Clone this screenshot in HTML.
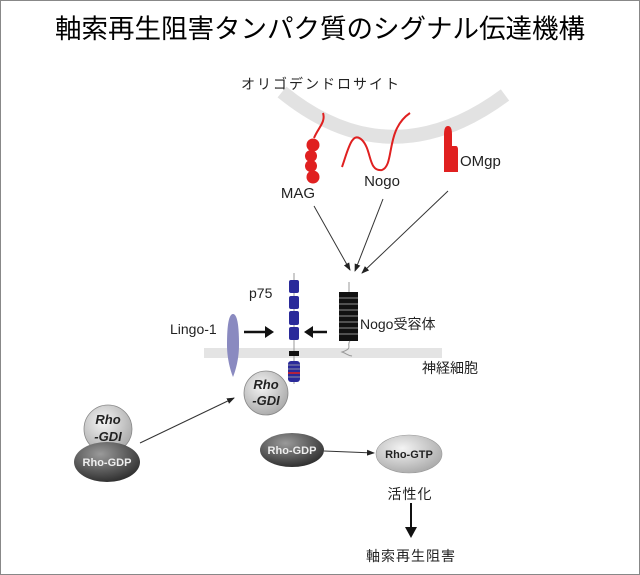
<!DOCTYPE html>
<html><head><meta charset="utf-8"><style>
html,body{margin:0;padding:0;background:#fff}
svg{display:block}
text{font-family:"Liberation Sans","Noto Sans CJK JP",sans-serif}
</style></head><body>
<svg width="640" height="575" viewBox="0 0 640 575" xmlns="http://www.w3.org/2000/svg">
<defs>
<radialGradient id="lg" cx="40%" cy="35%" r="70%"><stop offset="0" stop-color="#f4f4f4"/><stop offset="1" stop-color="#a8a8a8"/></radialGradient>
<radialGradient id="dg" cx="40%" cy="30%" r="75%"><stop offset="0" stop-color="#9a9a9a"/><stop offset="1" stop-color="#2a2a2a"/></radialGradient>
<marker id="a" markerWidth="8" markerHeight="8" refX="7" refY="4" orient="auto" markerUnits="userSpaceOnUse"><path d="M0,1 L8,4 L0,7 z" fill="#222"/></marker>
</defs>
<rect x="0.5" y="0.5" width="639" height="574" fill="#fff" stroke="#888"/>
<text x="320" y="38" font-size="26.5" text-anchor="middle" fill="#000">軸索再生阻害タンパク質のシグナル伝達機構</text>
<text x="321" y="89" font-size="14" text-anchor="middle" fill="#222" letter-spacing="2">オリゴデンドロサイト</text>
<path d="M282 92 Q 390 180 505 95" fill="none" stroke="#e2e2e2" stroke-width="14"/>
<!-- MAG -->
<path d="M323 113 C326 122 318 128 314 138" fill="none" stroke="#e02020" stroke-width="2"/>
<circle cx="313" cy="145" r="6.5" fill="#e02020"/><circle cx="311" cy="156" r="6" fill="#e02020"/><circle cx="311" cy="166" r="6" fill="#e02020"/><circle cx="313" cy="177" r="6.5" fill="#e02020"/>
<text x="298" y="198" font-size="15" text-anchor="middle" fill="#222">MAG</text>
<!-- Nogo -->
<path d="M342 167 C348 150 352 130 362 140 C372 150 368 172 382 170 C395 165 385 130 410 113" fill="none" stroke="#e02020" stroke-width="2"/>
<text x="382" y="186" font-size="15" text-anchor="middle" fill="#222">Nogo</text>
<!-- OMgp -->
<path d="M444 172 L444 134 Q444 126 448 126 Q452 126 452 134 L452 146 L456 146 Q458 146 458 150 L458 172 Z" fill="#e02020"/>
<text x="460" y="166" font-size="15" fill="#222">OMgp</text>
<line x1="314" y1="206" x2="350" y2="270" stroke="#333" stroke-width="1" marker-end="url(#a)"/>
<line x1="383" y1="199" x2="355" y2="271" stroke="#333" stroke-width="1" marker-end="url(#a)"/>
<line x1="448" y1="191" x2="362" y2="273" stroke="#333" stroke-width="1" marker-end="url(#a)"/>
<!-- membrane -->
<rect x="204" y="348" width="238" height="10" fill="#e4e4e4"/>
<!-- p75 -->
<line x1="294" y1="273" x2="294" y2="384" stroke="#999" stroke-width="1"/>
<rect x="289" y="280" width="10" height="13" rx="2" fill="#2a2a9a"/>
<rect x="289" y="296" width="10" height="13" rx="2" fill="#2a2a9a"/>
<rect x="289" y="311" width="10" height="14" rx="2" fill="#2a2a9a"/>
<rect x="289" y="327" width="10" height="13" rx="2" fill="#2a2a9a"/>
<rect x="289" y="351" width="10" height="5" fill="#111"/>
<rect x="288" y="361" width="12" height="21" rx="3" fill="#2a2a9a"/>
<line x1="288" y1="365" x2="300" y2="365" stroke="#aaa" stroke-width="0.8"/><line x1="288" y1="369" x2="300" y2="369" stroke="#aaa" stroke-width="0.8"/><line x1="288" y1="373" x2="300" y2="373" stroke="#e02020" stroke-width="1.5"/><line x1="288" y1="377" x2="300" y2="377" stroke="#aaa" stroke-width="0.8"/>
<text x="249" y="298" font-size="14" fill="#222">p75</text>
<!-- Nogo receptor -->
<line x1="349" y1="282" x2="349" y2="293" stroke="#999"/>
<rect x="339" y="292" width="19" height="49" fill="#111"/>
<g stroke="#bbb" stroke-width="0.8"><line x1="339" y1="298" x2="358" y2="298"/><line x1="339" y1="304" x2="358" y2="304"/><line x1="339" y1="310" x2="358" y2="310"/><line x1="339" y1="316" x2="358" y2="316"/><line x1="339" y1="322" x2="358" y2="322"/><line x1="339" y1="328" x2="358" y2="328"/><line x1="339" y1="334" x2="358" y2="334"/></g>
<path d="M350 341 C346 346 354 348 342 352 C348 354 346 355 352 356" fill="none" stroke="#999" stroke-width="1"/>
<text x="360" y="329" font-size="14" fill="#222">Nogo受容体</text>
<!-- Lingo-1 -->
<path d="M233 314 C238 314 239 330 239 345 C239 360 235 372 233 377 C231 372 227 360 227 345 C227 330 228 314 233 314 Z" fill="#8a8ac0"/>
<text x="170" y="334" font-size="14" fill="#222">Lingo-1</text>
<line x1="244" y1="332" x2="272" y2="332" stroke="#111" stroke-width="2.5"/><path d="M265 326 L274 332 L265 338 Z" fill="#111"/>
<line x1="327" y1="332" x2="312" y2="332" stroke="#111" stroke-width="2.5"/><path d="M313 326 L304 332 L313 338 Z" fill="#111"/>
<text x="422" y="373" font-size="14" fill="#222">神経細胞</text>
<!-- Rho-GDI near p75 -->
<circle cx="266" cy="393" r="22" fill="url(#lg)" stroke="#888" stroke-width="0.8"/>
<text x="266" y="389" font-size="13" font-weight="bold" font-style="italic" text-anchor="middle" fill="#222">Rho</text>
<text x="266" y="405" font-size="13" font-weight="bold" font-style="italic" text-anchor="middle" fill="#222">-GDI</text>
<!-- left complex -->
<circle cx="108" cy="429" r="24" fill="url(#lg)" stroke="#888" stroke-width="0.8"/>
<text x="108" y="424" font-size="13" font-weight="bold" font-style="italic" text-anchor="middle" fill="#222">Rho</text>
<text x="108" y="441" font-size="13" font-weight="bold" font-style="italic" text-anchor="middle" fill="#222">-GDI</text>
<ellipse cx="107" cy="462" rx="33" ry="20" fill="url(#dg)"/>
<text x="107" y="466" font-size="11" font-weight="bold" text-anchor="middle" fill="#eee">Rho-GDP</text>
<line x1="140" y1="443" x2="234" y2="398" stroke="#333" stroke-width="1" marker-end="url(#a)"/>
<!-- Rho-GDP -> Rho-GTP -->
<ellipse cx="292" cy="450" rx="32" ry="17" fill="url(#dg)"/>
<text x="292" y="454" font-size="11" font-weight="bold" text-anchor="middle" fill="#eee">Rho-GDP</text>
<line x1="324" y1="451" x2="374" y2="453" stroke="#333" stroke-width="1" marker-end="url(#a)"/>
<ellipse cx="409" cy="454" rx="33" ry="19" fill="url(#lg)" stroke="#999" stroke-width="0.6"/>
<text x="409" y="458" font-size="11" font-weight="bold" text-anchor="middle" fill="#222">Rho-GTP</text>
<text x="410" y="499" font-size="14" text-anchor="middle" fill="#222" letter-spacing="1">活性化</text>
<line x1="411" y1="503" x2="411" y2="530" stroke="#111" stroke-width="2"/><path d="M405 527 L411 538 L417 527 Z" fill="#111"/>
<text x="411" y="561" font-size="14" text-anchor="middle" fill="#222" letter-spacing="1">軸索再生阻害</text>
</svg>
</body></html>
